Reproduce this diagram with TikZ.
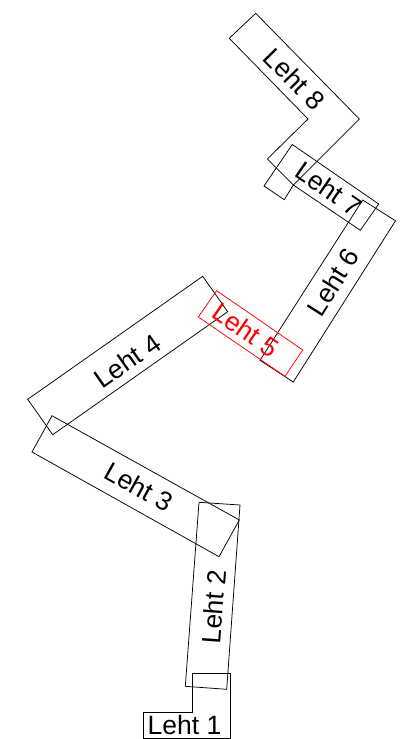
\documentclass[tikz,border=0pt]{standalone}
\usepackage{fontspec}
\setmainfont{Liberation Sans}
\tikzset{
  lehtbox/.style={draw=black,line width=0.75pt,line join=miter},
  lehtred/.style={draw=red,line width=0.75pt},
  lehtlabel/.style={font=\fontsize{26.5}{26.5}\selectfont,inner sep=0pt,text=black,anchor=center},
  lehtredlabel/.style={lehtlabel,text=red}
}
\begin{document}
\begin{tikzpicture}[x=1pt,y=-1pt]
\useasboundingbox (0,0) rectangle (414,739);
% Leht 1
\draw[lehtbox] (143.3,712.7) -- (192.3,712.7) -- (192.3,673) -- (230.3,673) -- (230.3,738.3) -- (143.3,738.3) -- cycle;
% Leht 2
\draw[lehtbox] (199,502.3) -- (240,505) -- (226.7,689.3) -- (185.3,686.3) -- cycle;
% Leht 3
\draw[lehtbox] (52,415.7) -- (239.3,520) -- (219,556.7) -- (32,452) -- cycle;
% Leht 4
\draw[lehtbox] (202.7,276.3) -- (227.7,311.7) -- (52.7,434.7) -- (27.7,399.3) -- cycle;
% Leht 6
\draw[lehtbox] (362.7,200) -- (395.5,220.8) -- (293.3,382) -- (260,360.3) -- cycle;
% Leht 7
\draw[lehtbox] (292.3,144.5) -- (378.7,204) -- (360.3,230.3) -- (293.3,185) -- (284.3,199.7) -- (264,186) -- cycle;
% Leht 8
\draw[lehtbox] (255.7,13.3) -- (359.3,119) -- (293.3,185) -- (267.3,159) -- (308,119) -- (229.3,38.3) -- cycle;
% Leht 5
\draw[lehtred] (216.7,290.7) -- (302.7,350) -- (285,376.3) -- (198.3,317) -- cycle;
\node[lehtlabel] (l1) at (184.5,725) {Leht 1};
\node[lehtlabel,rotate=85.7] (l2) at (214,607) {Leht 2};
\node[lehtlabel,rotate=-29] (l3) at (139,487) {Leht 3};
\node[lehtlabel,rotate=35] (l4) at (127.5,361) {Leht 4};
\node[lehtredlabel,rotate=-34.6] (l5) at (246,330) {Leht 5};
\node[lehtlabel,rotate=57.6] (l6) at (333,282) {Leht 6};
\node[lehtlabel,rotate=-34.6] (l7) at (329,189) {Leht 7};
\node[lehtlabel,rotate=-45.6] (l8) at (294.5,79) {Leht 8};
\end{tikzpicture}
\end{document}
